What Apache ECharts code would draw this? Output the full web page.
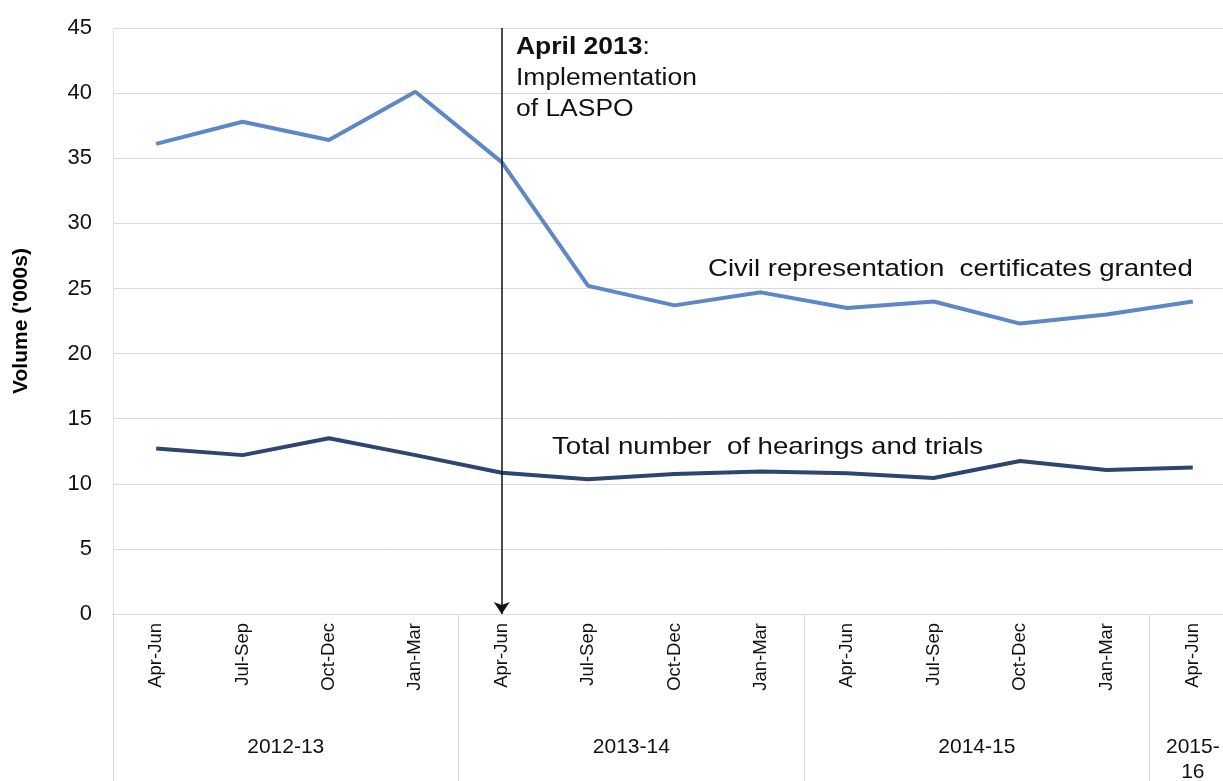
<!DOCTYPE html>
<html>
<head>
<meta charset="utf-8">
<script src="https://cdn.jsdelivr.net/npm/echarts@6/dist/echarts.min.js"></script>
<style>
  html, body { margin: 0; padding: 0; background: #fff; }
  #chart { width: 1223px; height: 781px; }
</style>
</head>
<body>
<div id="chart"></div>
<script>
const FONT = 'Liberation Sans, Arial, sans-serif'
const STRETCH = 1.15 // reference text is a bit wider than it is tall

// quarters along the x axis
const quarters = ['Apr-Jun', 'Jul-Sep', 'Oct-Dec', 'Jan-Mar',
  'Apr-Jun', 'Jul-Sep', 'Oct-Dec', 'Jan-Mar',
  'Apr-Jun', 'Jul-Sep', 'Oct-Dec', 'Jan-Mar',
  'Apr-Jun']
// financial years and how many quarters each covers
const years = ['2012-13', '2013-14', '2014-15', '2015-\n16']
const yearSpans = [4, 4, 4, 1]

// volumes in thousands
const civilCertificates = [36.1, 37.8, 36.4, 40.1, 34.7, 25.2, 23.7, 24.7, 23.5, 24.0, 22.3, 23.0, 24.0]
const hearingsTrials = [12.7, 12.2, 13.5, 12.2, 10.85, 10.35, 10.75, 10.95, 10.8, 10.45, 11.75, 11.05, 11.25]

const lawQuarter = 4 // Apr-Jun 2013, LASPO

// unique keys so repeated quarter names stay separate categories
const quarterKeys = quarters.map((q, i) => i + '|' + q)

// second axis: one point per half quarter, year name in the middle of its span
const yearPoints = new Array(quarters.length * 2 + 1).fill('')
const yearBounds = [0]
let start = 0
years.forEach((y, i) => {
  yearPoints[start * 2 + yearSpans[i]] = y
  start += yearSpans[i]
  yearBounds.push(start * 2)
})

const chart = echarts.init(document.getElementById('chart'))

chart.setOption({
  animation: false,
  grid: { left: 113, right: -13, top: 28, bottom: 167, containLabel: false, outerBoundsMode: 'none' },
  xAxis: [
    {
      type: 'category',
      data: quarterKeys,
      position: 'bottom',
      axisLine: { lineStyle: { color: '#d9d9d9', width: 1 } },
      axisTick: { show: false },
      axisLabel: {
        rotate: 90,
        margin: 9,
        interval: 0,
        color: '#111',
        fontFamily: FONT,
        fontSize: 18.5,
        formatter: (v) => v.split('|')[1],
      },
    },
    {
      type: 'category',
      data: yearPoints,
      boundaryGap: false,
      position: 'bottom',
      axisLine: { show: false },
      axisTick: {
        show: true,
        length: 170,
        interval: (i) => yearBounds.indexOf(i) >= 0,
        lineStyle: { color: '#d9d9d9', width: 1 },
      },
      axisLabel: {
        interval: (i, v) => v !== '',
        margin: 121,
        color: '#111',
        fontFamily: FONT,
        fontSize: 21,
        lineHeight: 25,
        align: 'center',
        verticalAlign: 'top',
      },
    },
  ],
  yAxis: {
    type: 'value',
    min: 0,
    max: 45,
    interval: 5,
    name: "Volume ('000s)",
    nameLocation: 'middle',
    nameGap: 81,
    nameTextStyle: { fontFamily: FONT, fontSize: 21, fontWeight: 'bold', color: '#000' },
    axisLine: { show: true, lineStyle: { color: '#e3e3e3', width: 1 } },
    axisTick: { show: false },
    axisLabel: { margin: 21, color: '#111', fontFamily: FONT, fontSize: 22 },
    splitLine: { lineStyle: { color: '#d9d9d9', width: 1 } },
  },
  series: [
    {
      name: 'Civil representation certificates granted',
      type: 'line',
      data: civilCertificates,
      symbol: 'none',
      lineStyle: { color: '#5d87c5', width: 4 },
      z: 3,
      markLine: {
        silent: true,
        symbol: ['none', 'arrow'],
        symbolSize: 12,
        label: { show: false },
        lineStyle: { color: '#111', width: 1.5, type: 'solid' },
        data: [[{ coord: [lawQuarter, 45] }, { coord: [lawQuarter, 0] }]],
      },
    },
    {
      name: 'Total number of hearings and trials',
      type: 'line',
      data: hearingsTrials,
      symbol: 'none',
      lineStyle: { color: '#2c4670', width: 4 },
      z: 3,
    },
  ],
  graphic: [
    {
      type: 'text',
      left: 516,
      top: 32,
      scaleX: STRETCH,
      style: {
        text: '{b|April 2013}:\nImplementation\nof LASPO',
        fontFamily: FONT,
        fontSize: 23,
        lineHeight: 31,
        fill: '#111',
        rich: { b: { fontWeight: 'bold', fontFamily: FONT, fontSize: 23, lineHeight: 31 } },
      },
    },
    {
      type: 'text',
      left: 708,
      top: 257,
      scaleX: STRETCH,
      style: { text: 'Civil representation  certificates granted', fontFamily: FONT, fontSize: 24, fill: '#111' },
    },
    {
      type: 'text',
      left: 552,
      top: 435,
      scaleX: STRETCH,
      style: { text: 'Total number  of hearings and trials', fontFamily: FONT, fontSize: 24, fill: '#111' },
    },
  ],
})
</script>
</body>
</html>
